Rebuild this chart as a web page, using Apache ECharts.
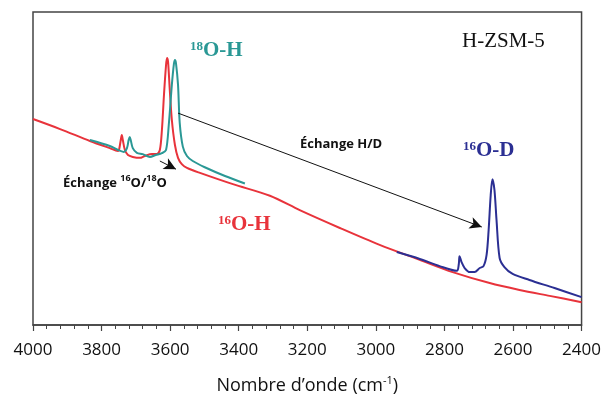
<!DOCTYPE html>
<html><head><meta charset="utf-8">
<script src="https://cdn.jsdelivr.net/npm/echarts@6/dist/echarts.min.js"></script>
<style>html,body{margin:0;padding:0;background:#fff}#c{width:604px;height:405px}</style>
</head><body><div id="c"></div>
<script>
// Wavenumbers (cm-1) and absorbance (arbitrary units)
var redW = [4000,3921,3834,3776,3752,3749,3744,3741,3738,3732,3723,3709,3688,3674,3653,3639,3630,3624,3618,3612,3609,3606,3601,3595,3586,3577,3566,3551,3513,3417,3309,3222,3105,2989,2872,2776,2668,2581,2493,2400];
var redA = [65.8,62.6,58.8,56.5,55.6,56.0,59.1,60.7,59.1,55.9,54.3,53.7,53.4,54.0,54.6,54.6,55.9,62.3,73.5,83.0,85.3,84.0,75.0,65.5,57.5,53.4,51.4,50.2,48.6,45.0,41.3,36.7,31.0,25.6,20.8,16.9,13.4,11.2,9.3,7.3];
var tealW = [3834,3776,3752,3735,3726,3721,3718,3715,3709,3697,3680,3659,3642,3624,3612,3604,3595,3589,3586,3583,3577,3572,3563,3551,3534,3499,3440,3382];
var tealA = [59.1,57.2,55.9,55.3,56.5,59.1,60.1,59.1,56.5,55.0,54.6,53.7,54.3,54.9,55.9,63.9,76.7,83.4,84.7,83.7,76.7,64.5,57.0,54.0,52.4,50.4,47.6,45.2];
var blueW = [2939,2872,2814,2764,2758,2756,2750,2741,2726,2712,2697,2686,2677,2671,2665,2660,2654,2648,2639,2625,2601,2552,2479,2400];
var blueA = [23.3,21.1,18.8,17.3,19.5,22.0,20.1,18.2,16.9,16.9,18.2,18.8,22.4,30.4,41.5,46.6,43.1,33.5,21.4,18.5,16.3,14.4,11.8,8.9];
var xTicks = [4000,3800,3600,3400,3200,3000,2800,2600,2400];

function pairs(w,a){return w.map(function(v,i){return [v,a[i]];});}

var chart = echarts.init(document.getElementById('c'));
chart.setOption({
  animation:false,
  grid:{left:33,right:22,top:12,bottom:80,show:true,borderColor:'#444',borderWidth:1.5,backgroundColor:'transparent'},
  xAxis:{type:'value',inverse:true,min:2400,max:4000,interval:200,
    axisLine:{show:true,lineStyle:{color:'#444',width:1.5}},
    axisTick:{show:true,length:6,lineStyle:{color:'#444',width:1.2}},
    minorTick:{show:true,splitNumber:5,length:4,lineStyle:{color:'#444',width:1}},
    splitLine:{show:false},
    axisLabel:{margin:17,color:'#111',fontSize:17,fontFamily:'Open Sans',
      formatter:function(v){return xTicks.indexOf(v)>=0?String(v):'';}},
    name:'{n|Nombre d\u2019onde (cm}{s|-1}{n|)}',nameLocation:'middle',nameGap:50,
    nameTextStyle:{rich:{n:{fontSize:18,fontFamily:'Open Sans',color:'#111',lineHeight:22},
      s:{fontSize:11,fontFamily:'Open Sans',color:'#111',verticalAlign:'top',lineHeight:12}}}
  },
  yAxis:{type:'value',min:0,max:100,show:false,splitLine:{show:false}},
  series:[
    {type:'line',data:pairs(redW,redA),smooth:0.3,symbol:'none',lineStyle:{color:'#e8333b',width:2},z:3,
      markLine:{silent:true,symbol:['none','arrow'],symbolSize:[9,12],
        lineStyle:{color:'#111',width:1,type:'solid'},label:{show:false},
        data:[[{coord:[3577,67.7]},{coord:[2691,31.3]}],[{coord:[3630,52.4]},{coord:[3583,49.8]}]]}},
    {type:'line',data:pairs(tealW,tealA),smooth:0.3,symbol:'none',lineStyle:{color:'#2a9895',width:2},z:4},
    {type:'line',data:pairs(blueW,blueA),smooth:0.3,symbol:'none',lineStyle:{color:'#2b2f93',width:2},z:4}
  ],
  graphic:[
    {type:'text',left:462,top:31,style:{text:'H-ZSM-5',font:'21px "Liberation Serif"',fill:'#111'}},
    {type:'text',left:190,top:40,style:{text:'{s|18}{m|O-H}',rich:{
      s:{fontSize:13,fontWeight:'bold',fontFamily:'Liberation Serif',fill:'#2a9895',color:'#2a9895',verticalAlign:'top',lineHeight:14},
      m:{fontSize:21,fontWeight:'bold',fontFamily:'Liberation Serif',fill:'#2a9895',color:'#2a9895',lineHeight:22}}}},
    {type:'text',left:463,top:140,style:{text:'{s|16}{m|O-D}',rich:{
      s:{fontSize:13,fontWeight:'bold',fontFamily:'Liberation Serif',color:'#2b2f93',fill:'#2b2f93',verticalAlign:'top',lineHeight:14},
      m:{fontSize:21,fontWeight:'bold',fontFamily:'Liberation Serif',color:'#2b2f93',fill:'#2b2f93',lineHeight:22}}}},
    {type:'text',left:218,top:214,style:{text:'{s|16}{m|O-H}',rich:{
      s:{fontSize:13,fontWeight:'bold',fontFamily:'Liberation Serif',color:'#e8333b',fill:'#e8333b',verticalAlign:'top',lineHeight:14},
      m:{fontSize:21,fontWeight:'bold',fontFamily:'Liberation Serif',color:'#e8333b',fill:'#e8333b',lineHeight:22}}}},
    {type:'text',left:63,top:174,style:{text:'{m|\u00c9change }{s|16}{m|O/}{s|18}{m|O}',rich:{
      s:{fontSize:9,fontWeight:'bold',fontFamily:'Open Sans',color:'#111',fill:'#111',verticalAlign:'top',lineHeight:10},
      m:{fontSize:13,fontWeight:'bold',fontFamily:'Open Sans',color:'#111',fill:'#111',lineHeight:18}}}},
    {type:'text',left:300,top:138,style:{text:'\u00c9change H/D',font:'bold 13px "Open Sans"',fill:'#111'}}
  ]
});
</script></body></html>
